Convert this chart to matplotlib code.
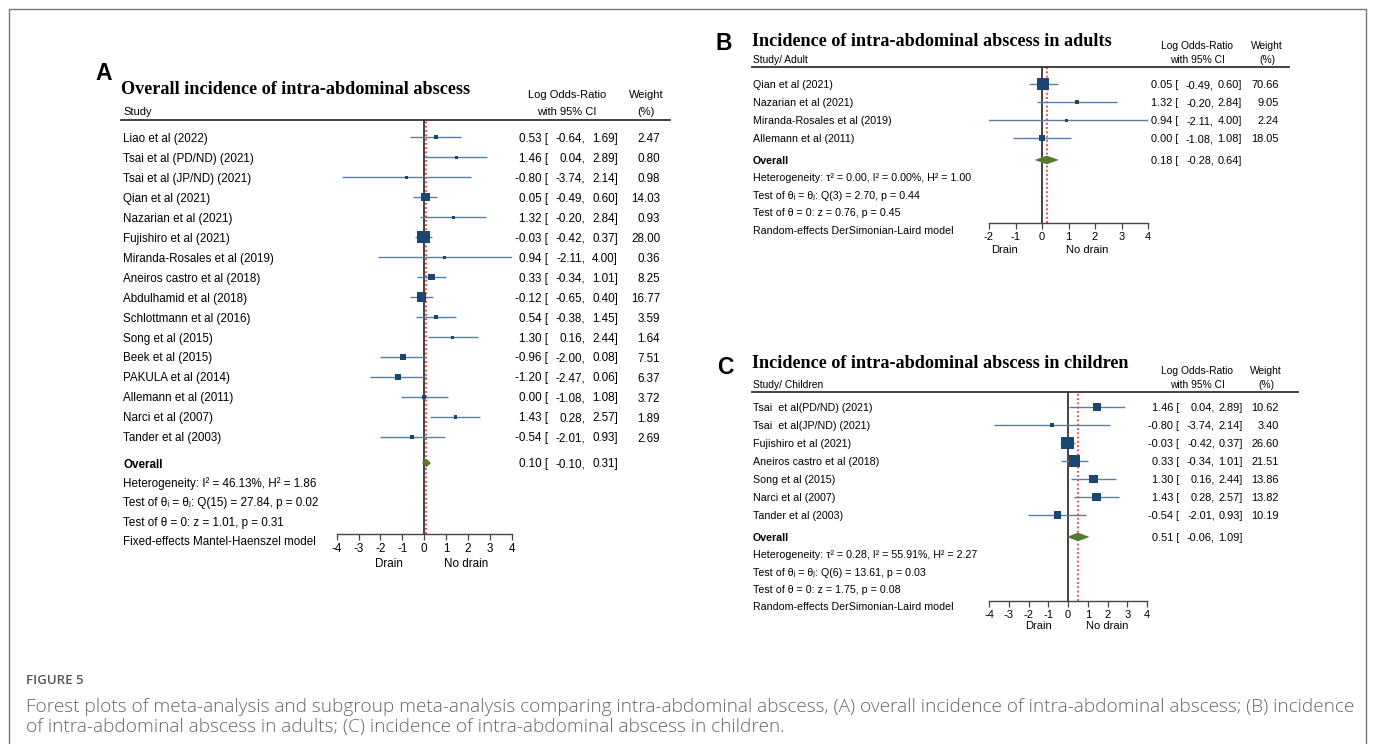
import matplotlib
matplotlib.use('Agg')
import matplotlib.pyplot as plt
from matplotlib import transforms
from matplotlib.lines import Line2D

plt.rcParams['font.family'] = ['Liberation Sans', 'DejaVu Sans']
plt.rcParams['axes.unicode_minus'] = False

W, H = 1375, 744

# (A) overall incidence
a_study = ['Liao et al (2022)', 'Tsai et al (PD/ND) (2021)', 'Tsai et al (JP/ND) (2021)',
           'Qian et al (2021)', 'Nazarian et al (2021)', 'Fujishiro et al (2021)',
           'Miranda-Rosales et al (2019)', 'Aneiros castro et al (2018)', 'Abdulhamid et al (2018)',
           'Schlottmann et al (2016)', 'Song et al (2015)', 'Beek et al (2015)',
           'PAKULA et al (2014)', 'Allemann et al (2011)', 'Narci et al (2007)', 'Tander et al (2003)']
a_est = [0.53, 1.46, -0.80, 0.05, 1.32, -0.03, 0.94, 0.33, -0.12, 0.54, 1.30, -0.96, -1.20, 0.00, 1.43, -0.54]
a_lo = [-0.64, 0.04, -3.74, -0.49, -0.20, -0.42, -2.11, -0.34, -0.65, -0.38, 0.16, -2.00, -2.47, -1.08, 0.28, -2.01]
a_hi = [1.69, 2.89, 2.14, 0.60, 2.84, 0.37, 4.00, 1.01, 0.40, 1.45, 2.44, 0.08, 0.06, 1.08, 2.57, 0.93]
a_wt = [2.47, 0.80, 0.98, 14.03, 0.93, 28.00, 0.36, 8.25, 16.77, 3.59, 1.64, 7.51, 6.37, 3.72, 1.89, 2.69]
a_overall = [0.10, -0.10, 0.31]
a_notes = ['Heterogeneity: I² = 46.13%, H² = 1.86',
           'Test of θᵢ = θⱼ: Q(15) = 27.84, p = 0.02',
           'Test of θ = 0: z = 1.01, p = 0.31',
           'Fixed-effects Mantel-Haenszel model']

# (B) adults
b_study = ['Qian et al (2021)', 'Nazarian et al (2021)', 'Miranda-Rosales et al (2019)', 'Allemann et al (2011)']
b_est = [0.05, 1.32, 0.94, 0.00]
b_lo = [-0.49, -0.20, -2.11, -1.08]
b_hi = [0.60, 2.84, 4.00, 1.08]
b_wt = [70.66, 9.05, 2.24, 18.05]
b_overall = [0.18, -0.28, 0.64]
b_notes = ['Heterogeneity: τ² = 0.00, I² = 0.00%, H² = 1.00',
           'Test of θᵢ = θⱼ: Q(3) = 2.70, p = 0.44',
           'Test of θ = 0: z = 0.76, p = 0.45',
           'Random-effects DerSimonian-Laird model']

# (C) children
c_study = ['Tsai  et al(PD/ND) (2021)', 'Tsai  et al(JP/ND) (2021)', 'Fujishiro et al (2021)',
           'Aneiros castro et al (2018)', 'Song et al (2015)', 'Narci et al (2007)', 'Tander et al (2003)']
c_est = [1.46, -0.80, -0.03, 0.33, 1.30, 1.43, -0.54]
c_lo = [0.04, -3.74, -0.42, -0.34, 0.16, 0.28, -2.01]
c_hi = [2.89, 2.14, 0.37, 1.01, 2.44, 2.57, 0.93]
c_wt = [10.62, 3.40, 26.60, 21.51, 13.86, 13.82, 10.19]
c_overall = [0.51, -0.06, 1.09]
c_notes = ['Heterogeneity: τ² = 0.28, I² = 55.91%, H² = 2.27',
           'Test of θᵢ = θⱼ: Q(6) = 13.61, p = 0.03',
           'Test of θ = 0: z = 1.75, p = 0.08',
           'Random-effects DerSimonian-Laird model']

NAVY = '#1a476f'
CI = '#5a7ea5'
GREEN = '#557a2e'

fig = plt.figure(figsize=(W / 100, H / 100), dpi=100)
fit = []


def ftext(x, y, s, **kw):
    return fig.text(x / W, 1 - y / H, s, **kw)


def panel(letter, title, head, study, est, lo, hi, wt, overall, notes, xlim,
          box, row0, step, lay):
    x0, x1, ytop, ybot = box
    fs, vfs = lay['fs'], lay['vfs']
    ax = fig.add_axes([x0 / W, 1 - ybot / H, (x1 - x0) / W, (ybot - ytop) / H])
    ax.set_xlim(xlim)
    ax.set_ylim((ybot - row0) / step, (ytop - row0) / step)
    ax.patch.set_alpha(0)
    for s in ['left', 'right', 'top']:
        ax.spines[s].set_visible(False)
    ax.spines['bottom'].set_color('#444')
    ax.spines['bottom'].set_linewidth(1.0)
    ax.set_yticks([])
    ax.set_xticks(range(xlim[0], xlim[1] + 1))
    ax.tick_params(axis='x', length=4, width=0.9, color='#444', pad=2.5, labelsize=lay['tfs'])

    n = len(study)
    rows = list(range(n))
    yo = n + lay['off']

    ax.axvline(0, color='#222', lw=1.2, zorder=2)
    ax.axvline(overall[0], color='#e3201b', lw=1.1, ls=(0, (1.2, 1.6)), zorder=2)
    ax.hlines(rows, lo, hi, color=CI, lw=1.0, zorder=3)
    wmax = max(wt)
    side = [max(12.3 * (w / wmax) ** 0.5, 3.0) * 0.72 for w in wt]
    ax.scatter(est, rows, s=[d ** 2 for d in side], marker='s', color=NAVY, lw=0, zorder=4)
    h = 4.3 / step
    ax.fill([overall[1], overall[0], overall[2], overall[0]], [yo, yo - h, yo, yo + h],
            color=GREEN, lw=0, zorder=4)

    for x, s in zip(lay['drain'], ['Drain', 'No drain']):
        ax.annotate(s, xy=(x, 0), xycoords=ax.get_xaxis_transform(), xytext=(0, -lay['ddy']),
                    textcoords='offset pixels', ha='center', va='center', fontsize=lay['tfs'])

    tr = transforms.blended_transform_factory(fig.transFigure, ax.transData)
    lx = lay['lx']
    ax.plot([lay['line'][0] / W, lay['line'][1] / W], [ax.get_ylim()[1]] * 2, transform=tr,
            color='#333', lw=1.3, clip_on=False)

    va = 'center_baseline'
    c1, c2, c3, c4 = lay['cols']

    def values(y, e, l, u):
        ax.text(c1 / W, y, f'{e:.2f} [', transform=tr, fontsize=vfs, va=va, ha='right')
        ax.text(c2 / W, y, f'{l:.2f},', transform=tr, fontsize=vfs, va=va, ha='right')
        ax.text(c3 / W, y, f'{u:.2f}]', transform=tr, fontsize=vfs, va=va, ha='right')

    for i in rows:
        ax.text(lx / W, i, study[i], transform=tr, fontsize=fs, va=va)
        values(i, est[i], lo[i], hi[i])
        ax.text(c4 / W, i, f'{wt[i]:.2f}', transform=tr, fontsize=vfs, va=va, ha='right')
    ax.text(lx / W, yo, 'Overall', transform=tr, fontsize=fs, va=va, fontweight='bold')
    values(yo, *overall)
    for k, s in enumerate(notes):
        ax.text(lx / W, yo + (k + 1) * lay['nstep'], s, transform=tr, fontsize=fs, va=va)

    # headers
    ftext(lay['letter'][0], lay['letter'][1], letter, fontsize=16.5, fontweight='bold',
          ha='center', va='center')
    t = ftext(lay['title'][0], lay['title'][1], title, family='Liberation Serif',
              fontweight='bold', fontsize=13, va='center')
    fit.append((t, lay['title'][2]))
    ftext(lx, lay['head_y'][1], head, fontsize=lay['hfs'], va=va)
    ftext(lay['hc'][0], lay['head_y'][0], 'Log Odds-Ratio', fontsize=lay['hfs'], ha='center', va=va)
    ftext(lay['hc'][0], lay['head_y'][1], 'with 95% CI', fontsize=lay['hfs'], ha='center', va=va)
    ftext(lay['hc'][1], lay['head_y'][0], 'Weight', fontsize=lay['hfs'], ha='center', va=va)
    ftext(lay['hc'][1], lay['head_y'][1], '(%)', fontsize=lay['hfs'], ha='center', va=va)
    return ax


panel('A', 'Overall incidence of intra-abdominal abscess', 'Study',
      a_study, a_est, a_lo, a_hi, a_wt, a_overall, a_notes, (-4, 4),
      (336.7, 511.7, 120, 534), 137, 20,
      dict(fs=8.4, vfs=8.4, hfs=8.0, tfs=8.4, off=0.3, nstep=0.97, drain=(-1.6, 1.9), ddy=30,
           lx=123, line=(121, 670), cols=(548, 585, 618, 660), letter=(104, 73),
           title=(121, 90, 346), head_y=(94, 111), hc=(567, 646)))

panel('B', 'Incidence of intra-abdominal abscess in adults', 'Study/ Adult',
      b_study, b_est, b_lo, b_hi, b_wt, b_overall, b_notes, (-2, 4),
      (989, 1148, 67, 223), 84, 18,
      dict(fs=7.7, vfs=7.9, hfs=7.4, tfs=8.0, off=0.22, nstep=0.97, drain=(-1.4, 1.7), ddy=27,
           lx=753, line=(752, 1289), cols=(1178, 1214, 1242, 1279), letter=(724, 43),
           title=(752, 41, 357), head_y=(45, 59), hc=(1197, 1267)))

panel('C', 'Incidence of intra-abdominal abscess in children', 'Study/ Children',
      c_study, c_est, c_lo, c_hi, c_wt, c_overall, c_notes, (-4, 4),
      (989, 1147, 392, 601), 407, 18,
      dict(fs=7.7, vfs=7.9, hfs=7.4, tfs=8.0, off=0.22, nstep=0.96, drain=(-1.5, 2.0), ddy=25,
           lx=753, line=(752, 1298), cols=(1179, 1215, 1243, 1279), letter=(725, 367),
           title=(752, 364, 374), head_y=(370, 384), hc=(1197, 1266)))

# frame and caption
fig.add_artist(Line2D([9 / W, 9 / W, 1366 / W, 1366 / W], [0, 1 - 9 / H, 1 - 9 / H, 0],
                      transform=fig.transFigure, color='#777', lw=1.0))
ftext(26, 681, 'FIGURE 5', family='Open Sans', fontsize=9.5, color='#555', fontweight='semibold',
      va='center')
cap1 = ftext(26, 707, 'Forest plots of meta-analysis and subgroup meta-analysis comparing intra-abdominal '
             'abscess, (A) overall incidence of intra-abdominal abscess; (B) incidence',
             family='Open Sans', fontsize=12, color='#666', fontweight='light', va='center')
cap2 = ftext(26, 727, 'of intra-abdominal abscess in adults; (C) incidence of intra-abdominal abscess in children.',
             family='Open Sans', fontsize=12, color='#666', fontweight='light', va='center')
fit.append((cap1, 1326))

fig.canvas.draw()
r = fig.canvas.get_renderer()
for t, w in fit:
    bb = t.get_window_extent(renderer=r)
    t.set_fontsize(t.get_fontsize() * w / bb.width)
cap2.set_fontsize(cap1.get_fontsize())

fig.savefig('out.png', dpi=100)
